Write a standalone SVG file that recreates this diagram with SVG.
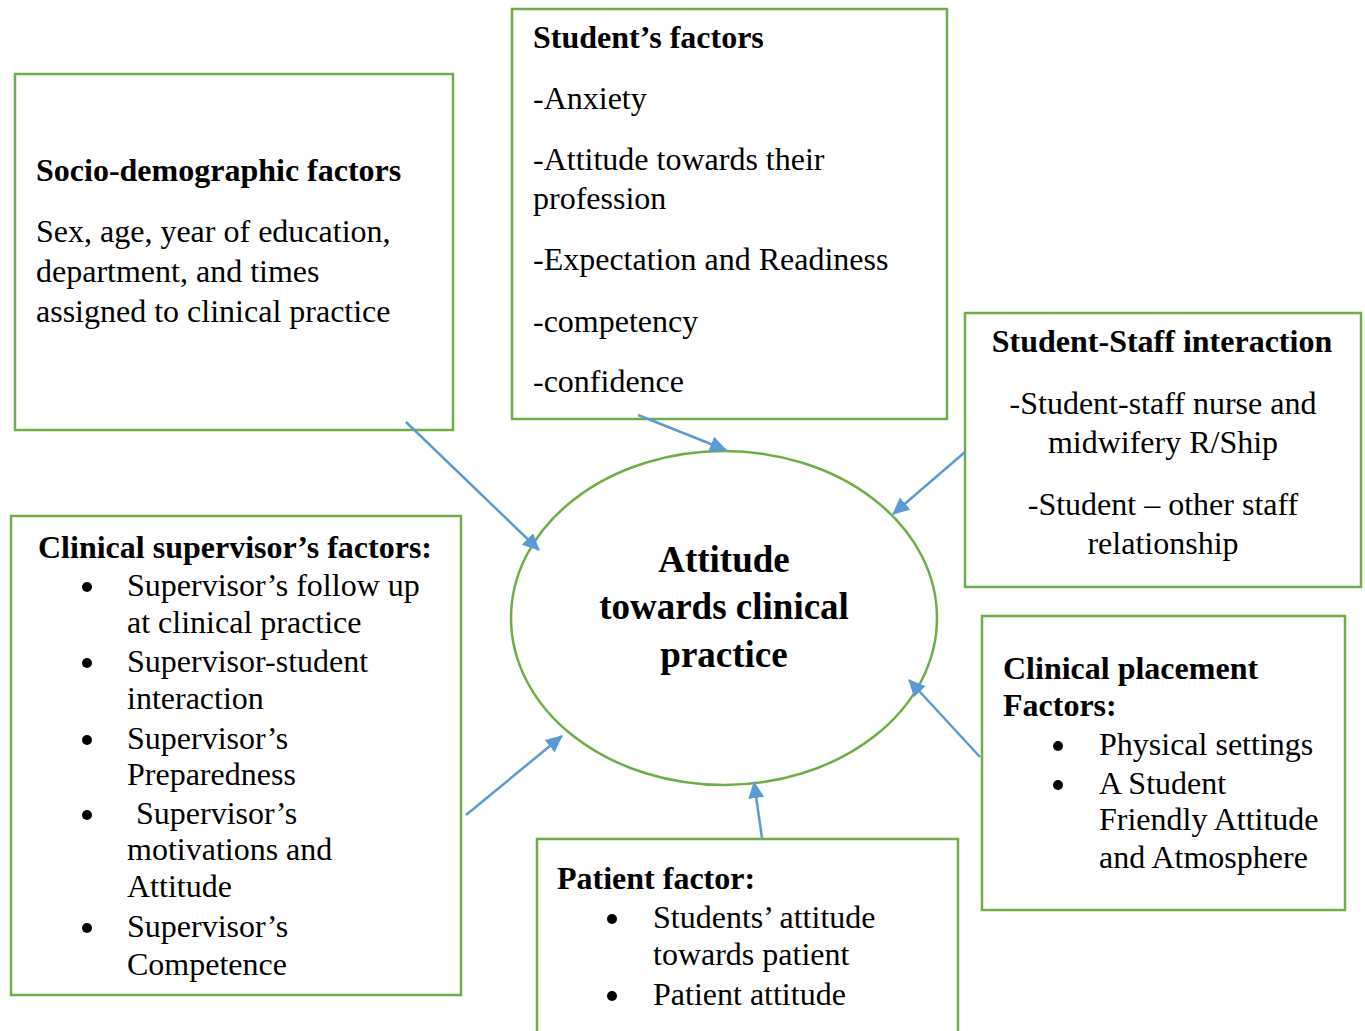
<svg xmlns="http://www.w3.org/2000/svg" width="1365" height="1031" viewBox="0 0 1365 1031">
<defs>
<style>
.box{fill:#fff;stroke:#70AD47;stroke-width:2.5}
.t{font-family:"Liberation Serif","Times New Roman",serif;font-size:32px;fill:#000}
.b{font-weight:bold}
.c{text-anchor:middle}
.title{font-family:"Liberation Serif","Times New Roman",serif;font-size:37px;font-weight:bold;text-anchor:middle;fill:#000}
.conn{stroke:#5B9BD5;stroke-width:2.5;fill:none;marker-end:url(#ah)}
</style>
<marker id="ah" markerUnits="userSpaceOnUse" markerWidth="18" markerHeight="16" refX="16" refY="8" orient="auto">
<path d="M0,0 L17,8 L0,16 Z" fill="#5B9BD5"/>
</marker>
</defs>
<rect width="1365" height="1031" fill="#fff"/>

<g id="socio">
<rect class="box" x="15" y="74" width="438" height="356"/>
<text class="t b" x="36" y="181">Socio-demographic factors</text>
<text class="t" x="36" y="242">Sex, age, year of education,</text>
<text class="t" x="36" y="282">department, and times</text>
<text class="t" x="36" y="322">assigned to clinical practice</text>
</g>

<g id="student">
<rect class="box" x="512" y="9" width="435" height="410"/>
<text class="t b" x="533" y="48">Student’s factors</text>
<text class="t" x="533" y="109">-Anxiety</text>
<text class="t" x="533" y="170">-Attitude towards their</text>
<text class="t" x="533" y="209">profession</text>
<text class="t" x="533" y="270">-Expectation and Readiness</text>
<text class="t" x="533" y="332">-competency</text>
<text class="t" x="533" y="392">-confidence</text>
</g>

<g id="staff">
<rect class="box" x="965" y="313" width="396" height="274"/>
<text class="t b c" x="1162" y="352">Student-Staff interaction</text>
<text class="t c" x="1163" y="414">-Student-staff nurse and</text>
<text class="t c" x="1163" y="453">midwifery R/Ship</text>
<text class="t c" x="1163" y="515">-Student – other staff</text>
<text class="t c" x="1163" y="554">relationship</text>
</g>

<g id="supervisor">
<rect class="box" x="11" y="516" width="450" height="479"/>
<text class="t b" x="38" y="558">Clinical supervisor’s factors:</text>
<circle cx="87" cy="587" r="5"/>
<circle cx="87" cy="663" r="5"/>
<circle cx="87" cy="740" r="5"/>
<circle cx="87" cy="815" r="5"/>
<circle cx="87" cy="928" r="5"/>
<text class="t" x="127" y="596">Supervisor’s follow up</text>
<text class="t" x="127" y="633">at clinical practice</text>
<text class="t" x="127" y="672">Supervisor-student</text>
<text class="t" x="127" y="709">interaction</text>
<text class="t" x="127" y="749">Supervisor’s</text>
<text class="t" x="127" y="785">Preparedness</text>
<text class="t" x="136" y="824">Supervisor’s</text>
<text class="t" x="127" y="860">motivations and</text>
<text class="t" x="127" y="897">Attitude</text>
<text class="t" x="127" y="937">Supervisor’s</text>
<text class="t" x="127" y="975">Competence</text>
</g>

<g id="placement">
<rect class="box" x="982" y="616" width="363" height="294"/>
<text class="t b" x="1003" y="679">Clinical placement</text>
<text class="t b" x="1003" y="716">Factors:</text>
<circle cx="1058" cy="746" r="5"/>
<circle cx="1058" cy="785" r="5"/>
<text class="t" x="1099" y="755">Physical settings</text>
<text class="t" x="1099" y="794">A Student</text>
<text class="t" x="1099" y="830">Friendly Attitude</text>
<text class="t" x="1099" y="868">and Atmosphere</text>
</g>

<g id="patient">
<rect class="box" x="537" y="839" width="421" height="200"/>
<text class="t b" x="557" y="889">Patient factor:</text>
<circle cx="612" cy="919" r="5"/>
<circle cx="612" cy="996" r="5"/>
<text class="t" x="653" y="928">Students’ attitude</text>
<text class="t" x="653" y="965">towards patient</text>
<text class="t" x="653" y="1005">Patient attitude</text>
</g>

<g id="center">
<ellipse cx="724" cy="618" rx="213" ry="167" fill="#fff" stroke="#70AD47" stroke-width="2.5"/>
<text class="title" x="724" y="572">Attitude</text>
<text class="title" x="724" y="619">towards clinical</text>
<text class="title" x="724" y="667">practice</text>
</g>

<g id="connectors">
<line class="conn" x1="406" y1="422" x2="539" y2="550"/>
<line class="conn" x1="638" y1="415" x2="726" y2="450"/>
<line class="conn" x1="965" y1="452" x2="893" y2="514"/>
<line class="conn" x1="466" y1="815" x2="562" y2="736"/>
<line class="conn" x1="762" y1="838" x2="754" y2="782"/>
<line class="conn" x1="980" y1="757" x2="909" y2="680"/>
</g>
</svg>
